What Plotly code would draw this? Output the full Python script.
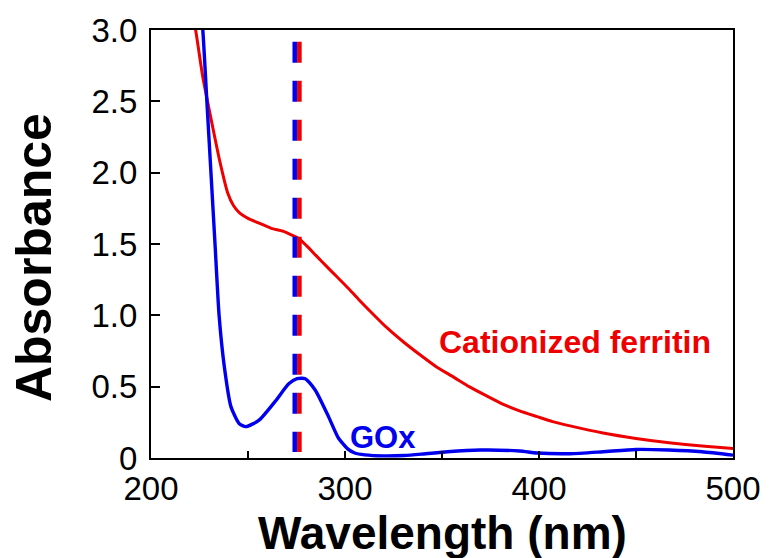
import plotly.graph_objects as go

# UV-vis absorbance spectra
ferritin_nm = [218, 223, 226.7, 231.8, 235.3, 239.5, 242.5, 245.5, 250, 255, 262, 268,
               273, 276, 280, 285, 290, 296.6, 301.7, 306.8, 314, 322, 330, 339, 347,
               356, 364, 373, 381, 390, 399, 407, 416, 433, 450, 467, 484, 500]
ferritin_abs = [3.35, 3.0, 2.67, 2.32, 2.09, 1.86, 1.77, 1.72, 1.68, 1.65, 1.61, 1.59,
                1.56, 1.54, 1.49, 1.42, 1.35, 1.26, 1.19, 1.115, 1.015, 0.908, 0.815, 0.72, 0.64,
                0.567, 0.50, 0.435, 0.38, 0.33, 0.29, 0.255, 0.225, 0.175, 0.137, 0.107, 0.084, 0.066]

gox_nm = [224.5, 226.7, 228.8, 230.9, 233.0, 235.1, 237.8, 241.2, 245.5, 248.9, 255.7,
          264.2, 271, 275.3, 279.5, 284.7, 291.5, 296.6, 301.7, 305, 310.2, 320, 330.6,
          340, 352.8, 369.8, 390, 399, 416, 433, 450, 467, 484, 500]
gox_abs = [3.3, 3.0, 2.5, 2.0, 1.5, 1.0, 0.64, 0.36, 0.24, 0.22, 0.265,
           0.40, 0.52, 0.556, 0.556, 0.475, 0.29, 0.14, 0.06, 0.035, 0.022, 0.015, 0.018,
           0.028, 0.044, 0.056, 0.049, 0.035, 0.03, 0.044, 0.06, 0.056, 0.044, 0.02]

PEAK_NM = 275.3
x_ticks = [200, 250, 300, 350, 400, 450, 500]
x_ticktext = ["200", "", "300", "", "400", "", "500"]
y_ticks = [0, 0.5, 1.0, 1.5, 2.0, 2.5, 3.0]
y_ticktext = ["0", "0.5", "1.0", "1.5", "2.0", "2.5", "3.0"]

RED = "#ee0000"
BLUE = "#0000ee"
FONT = "Arial, 'Liberation Sans', sans-serif"

fig = go.Figure()
fig.add_trace(go.Scatter(x=ferritin_nm, y=ferritin_abs, mode="lines",
                         line=dict(color=RED, width=3, shape="spline", smoothing=0.6),
                         showlegend=False))
fig.add_trace(go.Scatter(x=gox_nm, y=gox_abs, mode="lines",
                         line=dict(color=BLUE, width=3.4, shape="spline", smoothing=0.6),
                         showlegend=False))

# two-tone dashed marker at the protein absorption peak
for col, off in [(RED, 2.3), (BLUE, -2.3)]:
    fig.add_shape(type="line", xref="x", yref="y", xsizemode="pixel", xanchor=PEAK_NM,
                  x0=off, x1=off, y0=2.917, y1=0.042,
                  line=dict(color=col, width=4.6, dash="21px,18px"), layer="above")

fig.add_annotation(x=418.7, y=0.81, xref="x", yref="y", text="Cationized ferritin",
                   showarrow=False, xanchor="center", yanchor="middle",
                   font=dict(family=FONT, size=32, color=RED, weight="bold"))
fig.add_annotation(x=319.8, y=0.143, xref="x", yref="y", text="GOx",
                   showarrow=False, xanchor="center", yanchor="middle",
                   font=dict(family=FONT, size=31, color=BLUE, weight="bold"))

# axis titles
fig.add_annotation(x=0.5, y=0, xref="paper", yref="paper", text="Wavelength (nm)",
                   showarrow=False, xanchor="center", yanchor="middle", yshift=-75,
                   font=dict(family=FONT, size=46, color="black", weight="bold"))
fig.add_annotation(x=0, y=0.467, xref="paper", yref="paper", text="Absorbance",
                   showarrow=False, xanchor="center", yanchor="middle", xshift=-117,
                   textangle=-90,
                   font=dict(family=FONT, size=50, color="black", weight="bold"))

fig.update_xaxes(range=[200, 500], tickvals=x_ticks, ticktext=x_ticktext,
                 ticks="inside", ticklen=7, tickwidth=2, tickcolor="black",
                 showline=True, linecolor="black", linewidth=2, mirror=True,
                 showgrid=False, zeroline=False, ticklabelstandoff=0,
                 tickfont=dict(family=FONT, size=33, color="black"))
fig.update_yaxes(range=[0, 3.0], tickvals=y_ticks, ticktext=y_ticktext,
                 ticks="inside", ticklen=9, tickwidth=2, tickcolor="black",
                 showline=True, linecolor="black", linewidth=2, mirror=True,
                 showgrid=False, zeroline=False, ticklabelstandoff=5,
                 tickfont=dict(family=FONT, size=33, color="black"))

fig.update_layout(width=773, height=558, margin=dict(l=151, r=35, t=28, b=100),
                  plot_bgcolor="white", paper_bgcolor="white")

fig.write_html("out.html")
